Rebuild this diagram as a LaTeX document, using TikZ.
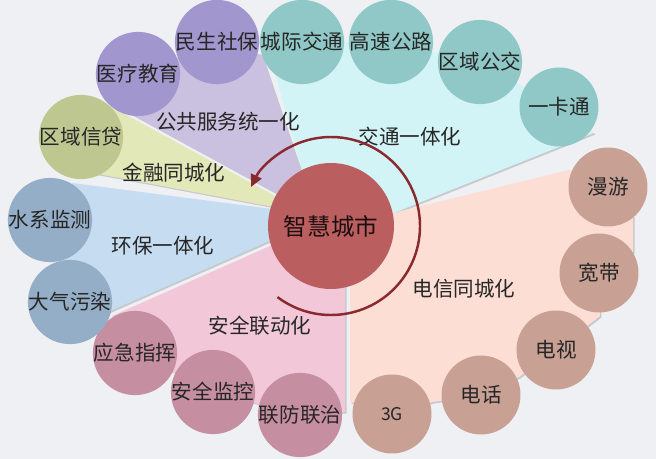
\documentclass[tikz,border=0pt]{standalone}
\usepackage{fontspec}
\setmainfont{Noto Sans CJK SC}
\usetikzlibrary{arrows.meta}
\definecolor{bg}{HTML}{EEF0F4}
\definecolor{cyanW}{HTML}{D3F4F6}
\definecolor{cyanC}{HTML}{8FC8C6}
\definecolor{peachW}{HTML}{FCDED4}
\definecolor{peachC}{HTML}{C8A094}
\definecolor{pinkW}{HTML}{F2C8D8}
\definecolor{pinkC}{HTML}{C68EA1}
\definecolor{blueW}{HTML}{C6DCF0}
\definecolor{blueC}{HTML}{94AEC7}
\definecolor{yelW}{HTML}{E2E8B7}
\definecolor{yelC}{HTML}{BEC790}
\definecolor{lavW}{HTML}{C9C1DF}
\definecolor{lavC}{HTML}{A196CD}
\definecolor{hub}{HTML}{BA5E60}
\definecolor{arcred}{HTML}{8B2A2E}
\definecolor{txt}{HTML}{262626}
\newcommand\mywedge[2]{%
  \fill[black, opacity=0.16, shift={(1.5,1.5)}] #2;
  \fill[#1] #2;}
\begin{document}
\begin{tikzpicture}[x=0.02cm, y=-0.02cm,
  lbl/.style={text=txt, font=\fontsize{11.7pt}{13pt}\selectfont, inner sep=0pt},
  cir/.style={circle, minimum size=1.58cm, inner sep=0pt, draw=none, text=txt,
              font=\fontsize{11.7pt}{13pt}\selectfont},
  hubstyle/.style={circle, minimum size=2.52cm, inner sep=0pt, fill=hub, text=black!85!hub,
              font=\fontsize{13.4pt}{15pt}\selectfont},
  arcarrow/.style={draw=arcred, line width=1.4pt, -{Triangle[length=7pt, width=6.5pt]}}]
\useasboundingbox (0,0) rectangle (656,459);
\fill[bg] (0,0) rectangle (656,459);
% wedges
\mywedge{cyanW}{(318,226) -- (274,70) -- (302,42) -- (391,42) -- (480,62) -- (559,107) -- (594,133) -- (331,238) -- cycle}
\mywedge{peachW}{(331,228) -- (569,170) -- (608,187) -- (633,216) -- (633,252) -- (599,273) -- (600,316) -- (556,350) -- (519,377) -- (481,395) -- (433,402) -- (392,414) -- (350,402) -- (350,286) -- cycle}
\mywedge{pinkW}{(112,316) -- (331,219) -- (345,282) -- (345,412) -- (300,415) -- (213,392) -- (135,353) -- cycle}
\mywedge{blueW}{(72,183) -- (326,216) -- (108,312) -- (70,302) -- (50,220) -- cycle}
\mywedge{yelW}{(95,98) -- (306,213) -- (93,173) -- (81,137) -- cycle}
\mywedge{lavW}{(110,102.5) -- (316,215) -- (262,55) -- (217,42) -- (138,74) -- cycle}
% sector labels
\node[lbl] (t1) at (410,137) {交通一体化};
\node[lbl] (t2) at (464,289) {电信同城化};
\node[lbl] (t3) at (260,326) {安全联动化};
\node[lbl] (t4) at (163,246) {环保一体化};
\node[lbl] (t5) at (174,173) {金融同城化};
\node[lbl] (t6) at (228,122) {公共服务统一化};
% circles
\node[cir, fill=cyanC] (c1) at (302,42) {城际交通};
\node[cir, fill=cyanC] (c2) at (391,42) {高速公路};
\node[cir, fill=cyanC] (c3) at (480,62) {区域公交};
\node[cir, fill=cyanC] (c4) at (559,107) {一卡通};
\node[cir, fill=peachC] (p1) at (608,187) {漫游};
\node[cir, fill=peachC] (p2) at (599,273) {宽带};
\node[cir, fill=peachC] (p3) at (556,350) {电视};
\node[cir, fill=peachC] (p4) at (481,395) {电话};
\node[cir, fill=peachC, font=\fontsize{10pt}{12pt}\selectfont] (p5) at (392,414) {3G};
\node[cir, fill=pinkC] (s1) at (135,353) {应急指挥};
\node[cir, fill=pinkC] (s2) at (213,392) {安全监控};
\node[cir, fill=pinkC] (s3) at (300,415) {联防联治};
\node[cir, fill=blueC] (b1) at (50,220) {水系监测};
\node[cir, fill=blueC] (b2) at (70,302) {大气污染};
\node[cir, fill=yelC] (y1) at (81,137) {区域信贷};
\node[cir, fill=lavC] (l1) at (138,74) {医疗教育};
\node[cir, fill=lavC] (l2) at (217,42) {民生社保};
% hub
\node[hubstyle] (hub) at (331,226) {智慧城市};
\draw[arcarrow] (hub.center) ++(127:89) arc[start angle=127, end angle=-154, radius=89];
\end{tikzpicture}
\end{document}
